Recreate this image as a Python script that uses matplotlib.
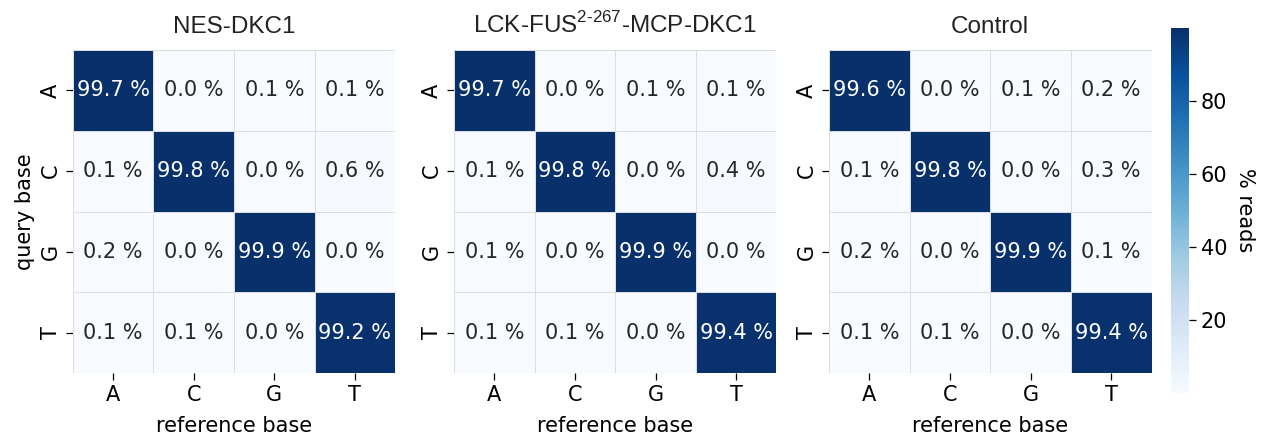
import numpy as np
import matplotlib as mpl
mpl.use('Agg')
import matplotlib.pyplot as plt
import seaborn as sns

bases = ['A', 'C', 'G', 'T']
titles = ['NES-DKC1', r'LCK-FUS$^{\text{2-267}}$-MCP-DKC1', 'Control']

# rows = query base, columns = reference base (% reads)
nes_dkc1 = [[99.7, 0.0, 0.1, 0.1],
            [0.1, 99.8, 0.0, 0.6],
            [0.2, 0.0, 99.9, 0.0],
            [0.1, 0.1, 0.0, 99.2]]
lck_fus = [[99.7, 0.0, 0.1, 0.1],
           [0.1, 99.8, 0.0, 0.4],
           [0.1, 0.0, 99.9, 0.0],
           [0.1, 0.1, 0.0, 99.4]]
control = [[99.6, 0.0, 0.1, 0.2],
           [0.1, 99.8, 0.0, 0.3],
           [0.2, 0.0, 99.9, 0.1],
           [0.1, 0.1, 0.0, 99.4]]

sns.set_style('ticks')
plt.rcParams['font.family'] = ['DejaVu Sans']
plt.rcParams['mathtext.fontset'] = 'custom'
plt.rcParams['mathtext.rm'] = 'Liberation Sans'
plt.rcParams['text.color'] = 'black'
plt.rcParams['axes.labelcolor'] = 'black'
plt.rcParams['xtick.color'] = 'black'
plt.rcParams['ytick.color'] = 'black'

fig = plt.figure(figsize=(12.71, 4.41), dpi=100)
W, H = 1271, 441
lefts = [72.7, 454, 829]
axes = [fig.add_axes([l / W, (H - 373) / H, 322.5 / W, 323 / H]) for l in lefts]
cax = fig.add_axes([1171 / W, (H - 393) / H, 18 / W, 365 / H])

mats = [np.array(m) for m in (nes_dkc1, lck_fus, control)]
vmin = min(m.min() for m in mats)
vmax = max(m.max() for m in mats)

for i, (ax, m, t) in enumerate(zip(axes, mats, titles)):
    labels = np.array([[f'{v:.1f} %' for v in row] for row in m])
    sns.heatmap(m, ax=ax, cmap='Blues', vmin=vmin, vmax=vmax,
                annot=labels, fmt='', annot_kws={'fontsize': 15},
                linewidths=0.6, linecolor='#dcdde3',
                cbar=(i == 2), cbar_ax=cax if i == 2 else None,
                xticklabels=bases, yticklabels=bases)
    ax.set_title(t, fontsize=17.5, pad=12, family='Liberation Sans', color='#222222')
    ax.set_xlabel('reference base', fontsize=15, labelpad=8)
    ax.tick_params(labelsize=15, length=5, width=0.9)
    ax.set_yticklabels(bases, rotation=90, va='center')
    ax.set_xticklabels(bases, rotation=0)
    if i == 0:
        ax.set_ylabel('query base', fontsize=15)

cax.set_ylabel('% reads', fontsize=15, rotation=270, labelpad=20)
cax.tick_params(labelsize=15, length=5, width=0.9)
cax.set_yticks([20, 40, 60, 80])
for s in cax.spines.values():
    s.set_visible(False)

plt.savefig('out.png', dpi=100)
